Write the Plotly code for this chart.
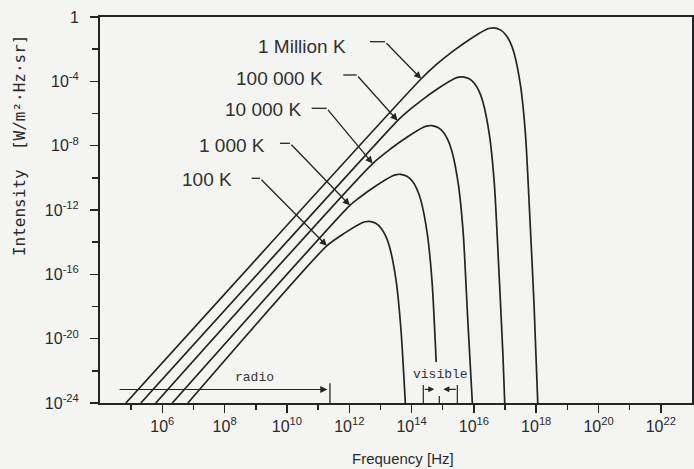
import numpy as np
import plotly.graph_objects as go

# Values read off the chart as powers of ten
# (frequency in Hz, intensity in W/m^2/Hz/sr)
labels = ["1 Million K", "100 000 K", "10 000 K", "1 000 K", "100 K"]

logf_1e6 = [4.83, 14.31, 14.80, 15.32, 15.85, 16.38, 16.52, 16.65, 16.85, 17.02, 17.16, 17.29, 17.50, 17.66, 17.80, 17.93, 18.05]
logi_1e6 = [-24.0, -3.84, -2.95, -2.14, -1.41, -0.79, -0.70, -0.68, -0.80, -1.10, -1.55, -2.24, -4.32, -7.43, -12.62, -17.88, -24.0]

logf_1e5 = [5.31, 13.55, 13.80, 14.32, 14.85, 15.38, 15.52, 15.65, 15.85, 16.02, 16.16, 16.29, 16.50, 16.66, 16.80, 16.93, 16.99]
logi_1e5 = [-24.0, -6.44, -5.99, -5.18, -4.45, -3.83, -3.74, -3.72, -3.84, -4.14, -4.59, -5.28, -7.36, -10.47, -15.66, -20.92, -24.0]

logf_1e4 = [5.79, 12.75, 13.32, 13.85, 14.38, 14.52, 14.65, 14.85, 15.02, 15.16, 15.29, 15.50, 15.66, 15.80, 15.95]
logi_1e4 = [-24.0, -9.11, -8.21, -7.48, -6.86, -6.77, -6.75, -6.87, -7.17, -7.62, -8.31, -10.39, -13.50, -18.69, -24.0]

logf_1e3 = [6.32, 12.02, 12.32, 12.85, 13.38, 13.52, 13.65, 13.85, 14.02, 14.16, 14.29, 14.50, 14.66, 14.79]
logi_1e3 = [-24.0, -11.71, -11.24, -10.51, -9.89, -9.80, -9.78, -9.90, -10.20, -10.65, -11.34, -13.42, -16.53, -21.45]

logf_1e2 = [6.82, 11.28, 11.85, 12.38, 12.52, 12.65, 12.85, 13.02, 13.16, 13.29, 13.50, 13.66, 13.80]
logi_1e2 = [-24.0, -14.23, -13.44, -12.82, -12.73, -12.71, -12.83, -13.13, -13.58, -14.27, -16.35, -19.46, -24.0]

x_major = [6, 8, 10, 12, 14, 16, 18, 20, 22]
x_minor = [5, 7, 9, 11, 13, 15, 17, 19, 21]
y_major = [0, -4, -8, -12, -16, -20, -24]
y_minor = [-2, -6, -10, -14, -18, -22]

INK = "#242424"
BG = "#f4f4f2"
SANS = "Liberation Sans, Arial, sans-serif"
MONO = "Liberation Mono, Courier New, monospace"


def p(v):
    return 10.0 ** v


fig = go.Figure()
for lf, li in [(logf_1e6, logi_1e6), (logf_1e5, logi_1e5), (logf_1e4, logi_1e4),
               (logf_1e3, logi_1e3), (logf_1e2, logi_1e2)]:
    fig.add_trace(go.Scatter(
        x=10.0 ** np.array(lf), y=10.0 ** np.array(li), mode="lines",
        line=dict(color=INK, width=1.7, shape="spline", smoothing=0.6),
        hoverinfo="skip", showlegend=False))

# leader lines (log units): label, text right edge, text y, dash start, bend x, bend y, tip x, tip y
leaders = [
    (labels[0], 11.967, -1.834, 12.665, 13.147, -1.536, logf_1e6[1], logi_1e6[1]),
    (labels[1], 11.222, -3.811, 11.809, 12.239, -3.606, logf_1e5[1], logi_1e5[1]),
    (labels[2], 10.526, -5.782, 10.794, 11.276, -5.677, logf_1e4[1], logi_1e4[1]),
    (labels[3], 9.360, -7.959, 9.777, 10.098, -7.853, logf_1e3[1], logi_1e3[1]),
    (labels[4], 8.292, -10.073, 8.869, 9.135, -10.029, logf_1e2[1], logi_1e2[1]),
]
shapes = []
annotations = []
for lab, tx, ty, dx0, bx, by, px, py in leaders:
    annotations.append(dict(x=tx, y=ty, xref="x", yref="y", text=lab, showarrow=False,
                            xanchor="right", yanchor="middle",
                            font=dict(family=SANS, size=19, color="#303030")))
    shapes.append(dict(type="line", xref="x", yref="y", x0=p(dx0), x1=p(bx), y0=p(by), y1=p(by),
                       line=dict(color=INK, width=1.3)))
    annotations.append(dict(x=px, y=py, xref="x", yref="y", ax=bx, ay=by, axref="x", ayref="y",
                            text="", showarrow=True, arrowhead=2, arrowsize=1.1,
                            arrowwidth=1.3, arrowcolor=INK, standoff=0))

# radio band marker
annotations.append(dict(x=11.30, y=-23.16, xref="x", yref="y", ax=4.58, ay=-23.16,
                        axref="x", ayref="y", text="", showarrow=True, arrowhead=2,
                        arrowsize=1.2, arrowwidth=1.2, arrowcolor=INK, standoff=0))
shapes.append(dict(type="line", xref="x", yref="y", x0=p(11.38), x1=p(11.38), y0=p(-22.77), y1=p(-24),
                   line=dict(color=INK, width=1.3)))
annotations.append(dict(x=8.943, y=-22.415, xref="x", yref="y", text="radio", showarrow=False,
                        font=dict(family=MONO, size=13, color="#333333")))

# visible band marker
for xb in (14.376, 15.468):
    shapes.append(dict(type="line", xref="x", yref="y", x0=p(xb), x1=p(xb), y0=p(-22.88), y1=p(-24),
                       line=dict(color=INK, width=1.2)))
shapes.append(dict(type="line", xref="x", yref="y", x0=p(14.89), x1=p(14.89), y0=p(-23.56), y1=p(-24),
                   line=dict(color=INK, width=1.2)))
annotations.append(dict(x=14.729, y=-23.149, xref="x", yref="y", ax=14.376, ay=-23.149,
                        axref="x", ayref="y", text="", showarrow=True, arrowhead=2,
                        arrowsize=1, arrowwidth=1.2, arrowcolor=INK, standoff=0))
annotations.append(dict(x=15.018, y=-23.149, xref="x", yref="y", ax=15.468, ay=-23.149,
                        axref="x", ayref="y", text="", showarrow=True, arrowhead=2,
                        arrowsize=1, arrowwidth=1.2, arrowcolor=INK, standoff=0))
annotations.append(dict(x=14.928, y=-22.197, xref="x", yref="y", text="visible", showarrow=False,
                        font=dict(family=MONO, size=13, color="#333333")))

# axis titles
annotations.append(dict(x=0.512, y=-0.1425, xref="paper", yref="paper",
                        text="Frequency [Hz]", showarrow=False, yanchor="middle",
                        font=dict(family=SANS, size=15, color="#2a2a2a")))
annotations.append(dict(x=-0.137, y=0.668, xref="paper", yref="paper", textangle=-90,
                        text="Intensity  [W/m²·Hz·sr]", showarrow=False,
                        xanchor="center", yanchor="middle",
                        font=dict(family="DejaVu Sans Mono, monospace", size=16, color="#2a2a2a")))

fig.update_xaxes(
    type="log", range=[4, 23], automargin=False,
    showline=True, linecolor=INK, linewidth=2, mirror=True,
    showgrid=False, zeroline=False, ticks="outside", ticklen=8, tickwidth=1.5, tickcolor=INK,
    tickvals=[p(v) for v in x_major],
    ticktext=["10<sup>%d</sup>" % v for v in x_major],
    minor=dict(tickvals=[p(v) for v in x_minor], ticks="outside", ticklen=5,
               tickwidth=1.5, tickcolor=INK, showgrid=False),
    tickfont=dict(family=SANS, size=16, color="#2a2a2a"))
fig.update_yaxes(
    type="log", range=[-24, 0], automargin=False,
    showline=True, linecolor=INK, linewidth=2, mirror=True,
    showgrid=False, zeroline=False, ticks="outside", ticklen=8, tickwidth=1.5, tickcolor=INK,
    tickvals=[p(v) for v in y_major],
    ticktext=["1" if v == 0 else "10<sup>%d</sup>" % v for v in y_major],
    minor=dict(tickvals=[p(v) for v in y_minor], ticks="outside", ticklen=6,
               tickwidth=1.5, tickcolor=INK, showgrid=False),
    ticklabelstandoff=8,
    tickfont=dict(family=SANS, size=16, color="#2a2a2a"))

fig.update_layout(
    width=694, height=469, autosize=False,
    margin=dict(l=100, r=2, t=17, b=66, autoexpand=False),
    paper_bgcolor=BG, plot_bgcolor=BG,
    shapes=shapes, annotations=annotations, showlegend=False)

fig.write_html("out.html",
               config={"displayModeBar": False, "staticPlot": True},
               post_script="document.body.style.margin='0px';"
                           "document.body.style.overflow='hidden';"
                           "document.documentElement.style.background='%s';" % BG)
